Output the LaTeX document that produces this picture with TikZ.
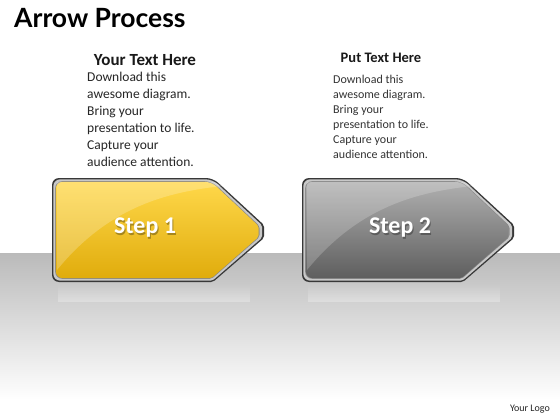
\documentclass[tikz,border=0pt]{standalone}
\usepackage{fontspec}
\setmainfont{Carlito}
\newfontfamily\titlefont{Lato}
\usetikzlibrary{fadings}
\definecolor{frameDark}{HTML}{383838}
\definecolor{frameSilver}{HTML}{C8C8C8}
\definecolor{frameMid}{HTML}{8A8A8A}
\definecolor{yelTop}{HTML}{FFD84A}
\definecolor{yelBot}{HTML}{E0AC0C}
\definecolor{gryTop}{HTML}{B0B0B0}
\definecolor{gryBot}{HTML}{5E5E5E}
\newcommand\arrowshape[2]{%
  [rounded corners=7] ({#1+52+#2},230) |- ({#1+213-0.4*#2},{178+#2})
  [rounded corners=2] -- ({#1+264-1.4*#2},{225+0.3*#2}) -- ({#1+264-1.4*#2},{238-0.3*#2})
  -- ({#1+213-0.4*#2},{282-#2}) [rounded corners=7] -| cycle}
\newcommand\glossshape[1]{%
  ({#1+57},{270}) .. controls ({#1+110},{205}) and ({#1+170},{192}) .. ({#1+222},{186})
  -- ({#1+214},{182}) -- ({#1+57},{182}) -- cycle}
\tikzset{
  titletext/.style={anchor=west, font=\titlefont\bfseries\fontsize{26.5}{30}\selectfont, text=black, inner sep=0},
  headtext/.style={anchor=center, font=\bfseries\fontsize{17}{20}\selectfont, text=black!90, inner sep=0},
  headtextb/.style={anchor=center, font=\bfseries\fontsize{14.5}{17}\selectfont, text=black!90, inner sep=0},
  bodytext/.style={anchor=north west, align=left, font=\fontsize{13.5}{17}\selectfont, text=black!85, inner sep=0},
  bodytextb/.style={anchor=north west, align=left, font=\fontsize{12}{15}\selectfont, text=black!80, inner sep=0},
  steptext/.style={font=\bfseries\fontsize{24}{27}\selectfont, text=white, inner sep=0},
  stepshadow/.style={font=\bfseries\fontsize{24}{27}\selectfont, text=black, opacity=0.3, inner sep=0},
  logotext/.style={anchor=east, font=\fontsize{10}{12}\selectfont, text=black!85, inner sep=0}
}
\begin{document}
\begin{tikzpicture}[x=1pt,y=-1pt]
\useasboundingbox (0,0) rectangle (560,420);
\fill[white] (0,0) rectangle (560,420);
% floor band
\shade[top color=black!27, bottom color=white] (0,253) rectangle (560,400);
% reflections
\fill[white, path fading=north, opacity=0.3] (58,284) rectangle (250,302);
\fill[white, path fading=north, opacity=0.3] (308,284) rectangle (500,302);

% arrow 1
\fill[frameDark] \arrowshape{0}{0};
\fill[frameSilver] \arrowshape{0}{1.3};
\fill[frameMid] \arrowshape{0}{3.2};
\shade[top color=yelTop, bottom color=yelBot] \arrowshape{0}{3.8};
\fill[white, opacity=0.22] \glossshape{0};
% arrow 2
\fill[frameDark] \arrowshape{250}{0};
\fill[frameSilver] \arrowshape{250}{1.3};
\fill[frameMid] \arrowshape{250}{3.2};
\shade[top color=gryTop, bottom color=gryBot] \arrowshape{250}{3.8};
\fill[white, opacity=0.2] \glossshape{250};

% step labels
\node[stepshadow] at (146.2,229.2) {Step 1};
\node[steptext] (s1) at (145,228) {Step 1};
\node[stepshadow] at (401.2,229.2) {Step 2};
\node[steptext] (s2) at (400,228) {Step 2};

% title
\node[titletext] (title) at (14,18) {Arrow Process};

% column 1 text
\node[headtext] (h1) at (145,60) {Your Text Here};
\node[bodytext] (b1) at (87,72) {Download this\\awesome diagram.\\Bring your\\presentation to life.\\Capture your\\audience attention.};

% column 2 text
\node[headtextb] (h2) at (381,58) {Put Text Here};
\node[bodytextb] (b2) at (333,75) {Download this\\awesome diagram.\\Bring your\\presentation to life.\\Capture your\\audience attention.};

% logo
\node[logotext] (logo) at (550,409) {Your Logo};
\end{tikzpicture}
\end{document}
